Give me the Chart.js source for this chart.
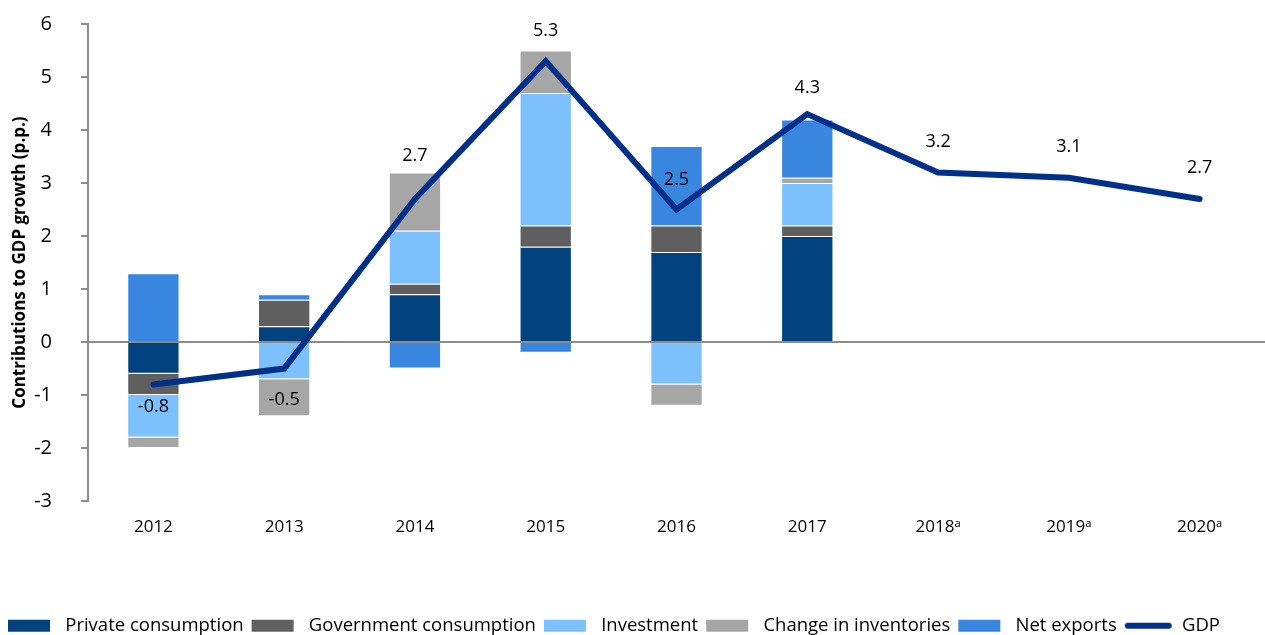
<!DOCTYPE html>
<html lang="en">
<head>
  <meta charset="UTF-8">
  <title>Contributions to GDP growth</title>
  <script src="https://cdn.jsdelivr.net/npm/chart.js"></script>
  <style>
    body { margin: 0; background: #fff; }
    #wrap { width: 1265px; height: 635px; position: relative; }
  </style>
</head>
<body>
  <div id="wrap"><canvas id="gdpChart"></canvas></div>
  <script>
    const years = ['2012', '2013', '2014', '2015', '2016', '2017', '2018\u1D43', '2019\u1D43', '2020\u1D43'];
    const privateConsumption = [-0.6, 0.3, 0.9, 1.8, 1.7, 2.0, null, null, null];
    const governmentConsumption = [-0.4, 0.5, 0.2, 0.4, 0.5, 0.2, null, null, null];
    const investment = [-0.8, -0.7, 1.0, 2.5, -0.8, 0.8, null, null, null];
    const inventories = [-0.2, -0.7, 1.1, 0.8, -0.4, 0.1, null, null, null];
    const netExports = [1.3, 0.1, -0.5, -0.2, 1.5, 1.1, null, null, null];
    const gdp = [-0.8, -0.5, 2.7, 5.3, 2.5, 4.3, 3.2, 3.1, 2.7];

    const font = "'Open Sans', 'Noto Sans', sans-serif";
    // vertical shift of each GDP label from its point (px)
    const gdpLabelShift = [22, 31, -43, -30, -30, -26, -31, -31, -31];

    function bar(label, data, color) {
      return {
        type: 'bar', label: label, data: data, backgroundColor: color,
        borderColor: 'rgba(255,255,255,0.5)', borderWidth: 1,
        barPercentage: 0.4, categoryPercentage: 1, stack: 'c', order: 2
      };
    }

    // legend swatch: small canvas with a gap before and after the mark
    function swatch(color, isLine) {
      const c = document.createElement('canvas');
      c.width = 55; c.height = 14;
      const g = c.getContext('2d');
      if (isLine) {
        g.strokeStyle = color; g.lineWidth = 6; g.lineCap = 'round';
        g.beginPath(); g.moveTo(10, 7); g.lineTo(51, 7); g.stroke();
      } else {
        g.fillStyle = color;
        g.fillRect(7, 1, 42, 12);
      }
      return c;
    }

    // GDP value labels
    const gdpLabels = {
      id: 'gdpLabels',
      afterDatasetsDraw(chart) {
        const meta = chart.getDatasetMeta(5);
        const ctx = chart.ctx;
        ctx.save();
        ctx.font = '18px ' + font;
        ctx.fillStyle = '#000';
        ctx.textAlign = 'center';
        ctx.textBaseline = 'middle';
        meta.data.forEach((pt, i) => {
          ctx.fillText(gdp[i].toFixed(1), pt.x, pt.y + gdpLabelShift[i]);
        });
        ctx.restore();
      }
    };

    new Chart(document.getElementById('gdpChart'), {
      data: {
        labels: years,
        datasets: [
          bar('Private consumption', privateConsumption, '#02437F'),
          bar('Government consumption', governmentConsumption, '#5F5F5F'),
          bar('Investment', investment, '#7CC1FD'),
          bar('Change in inventories', inventories, '#A6A6A6'),
          bar('Net exports', netExports, '#3886DF'),
          {
            type: 'line', label: 'GDP', data: gdp, borderColor: '#00308A', backgroundColor: '#00308A',
            borderWidth: 6, pointRadius: 0, tension: 0, stack: 'gdp', order: 1,
            borderCapStyle: 'round', borderJoinStyle: 'miter'
          }
        ]
      },
      options: {
        responsive: true,
        maintainAspectRatio: false,
        animation: false,
        layout: { padding: { top: 24, right: 0, left: 0, bottom: -10 } },
        plugins: {
          tooltip: { enabled: false },
          legend: {
            position: 'bottom',
            align: 'start',
            labels: {
              usePointStyle: true,
              pointStyleWidth: 55,
              boxHeight: 14,
              padding: 1,
              color: '#000',
              font: { family: font, size: 18.5 },
              sort: (a, b) => a.datasetIndex - b.datasetIndex,
              generateLabels(chart) {
                const items = Chart.defaults.plugins.legend.labels.generateLabels(chart);
                items.forEach(it => {
                  const ds = chart.data.datasets[it.datasetIndex];
                  it.pointStyle = swatch(ds.type === 'line' ? ds.borderColor : ds.backgroundColor, ds.type === 'line');
                  it.lineWidth = 0;
                });
                return items;
              }
            }
          }
        },
        scales: {
          x: {
            stacked: true,
            grid: { display: false, drawTicks: false },
            border: { display: false },
            ticks: { color: '#000', font: { family: font, size: 17 }, padding: 16 },
            afterFit(scale) { scale.height += 62; }
          },
          y: {
            stacked: true,
            min: -3, max: 6,
            ticks: { stepSize: 1, color: '#000', font: { family: font, size: 20 }, padding: 0 },
            grid: {
              color: c => c.tick && c.tick.value === 0 ? '#8C8C8C' : 'rgba(0,0,0,0)',
              lineWidth: 2,
              tickColor: '#8C8C8C',
              // long tick slot, only its last 7px drawn: keeps labels clear of the axis
              tickLength: 36,
              tickBorderDash: [0, 29, 7],
              drawOnChartArea: true
            },
            border: { color: '#8C8C8C', width: 2 },
            afterFit(scale) { scale.width = 88; },
            title: {
              display: true,
              text: 'Contributions to GDP growth (p.p.)',
              color: '#000',
              font: { family: font, size: 17, weight: 'bold' },
              padding: { top: 10, bottom: 4 }
            }
          }
        }
      },
      plugins: [gdpLabels]
    });
  </script>
</body>
</html>
